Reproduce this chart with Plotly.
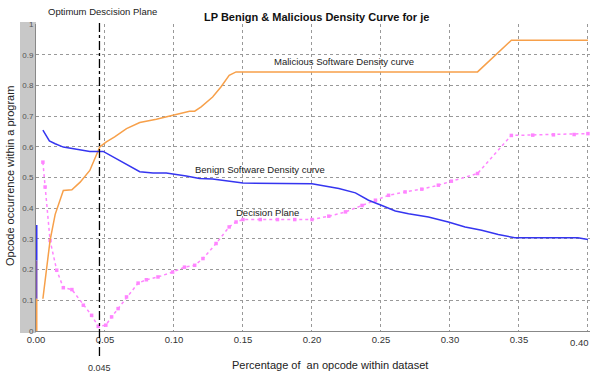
import plotly.graph_objects as go

# ---------------- data ----------------
mal_x = [0.005, 0.0102, 0.0139, 0.0198, 0.026, 0.032, 0.039, 0.0463, 0.051, 0.057,
         0.0656, 0.0752, 0.0872, 0.0992, 0.1113, 0.115, 0.1197, 0.128, 0.134, 0.140,
         0.145, 0.20, 0.25, 0.30, 0.320, 0.3445, 0.40]
mal_y = [0.105, 0.295, 0.38, 0.458, 0.46, 0.485, 0.523, 0.60, 0.616, 0.632,
         0.659, 0.679, 0.69, 0.703, 0.716, 0.716, 0.73, 0.762, 0.795, 0.833,
         0.844, 0.844, 0.844, 0.844, 0.844, 0.947, 0.947]

ben_x = [0.005, 0.0097, 0.0139, 0.0198, 0.0295, 0.039, 0.0487, 0.0559, 0.0656, 0.0752,
         0.0848, 0.0944, 0.1089, 0.1185, 0.128, 0.140, 0.150, 0.20, 0.2195, 0.2315,
         0.241, 0.2507, 0.2604, 0.270, 0.2844, 0.2988, 0.311, 0.323, 0.335, 0.347,
         0.3927, 0.40]
ben_y = [0.654, 0.619, 0.61, 0.599, 0.592, 0.585, 0.585, 0.567, 0.543, 0.519,
         0.515, 0.515, 0.505, 0.497, 0.495, 0.488, 0.482, 0.48, 0.464, 0.45,
         0.426, 0.409, 0.391, 0.382, 0.371, 0.355, 0.339, 0.328, 0.314, 0.304,
         0.304, 0.298]

dec_x = [0.005, 0.0066, 0.0102, 0.015, 0.0198, 0.026, 0.0343, 0.0403, 0.0451, 0.0506,
         0.0548, 0.0595, 0.0656, 0.074, 0.080, 0.0884, 0.099, 0.1076, 0.115, 0.121,
         0.1305, 0.140, 0.145, 0.150, 0.1625, 0.175, 0.1875, 0.20, 0.2122, 0.2243,
         0.2363, 0.246, 0.2555, 0.2675, 0.2796, 0.2916, 0.301, 0.320, 0.3445, 0.36,
         0.375, 0.39, 0.40]
dec_y = [0.55, 0.469, 0.295, 0.198, 0.141, 0.135, 0.084, 0.051, 0.015, 0.019,
         0.046, 0.073, 0.111, 0.156, 0.167, 0.176, 0.192, 0.208, 0.214, 0.236,
         0.285, 0.339, 0.355, 0.363, 0.363, 0.363, 0.363, 0.363, 0.374, 0.388,
         0.409, 0.426, 0.442, 0.453, 0.462, 0.475, 0.488, 0.513, 0.637, 0.638,
         0.639, 0.640, 0.643]

# short coloured stubs on the left edge (x = 0)
edge_blue_y = [0.23, 0.345]
edge_violet_y = [0.105, 0.23]
edge_orange_y = [0.0, 0.105]

optimum_x = 0.046
optimum_label = "0.045"

x_ticks = [0.00, 0.05, 0.10, 0.15, 0.20, 0.25, 0.30, 0.35, 0.40]
x_tick_text = ["0.00", "0.05", "0.10", "0.15", "0.20", "0.25", "0.30", "0.35", ""]
last_x_label = "0.40"
y_ticks = [0, 0.1, 0.2, 0.3, 0.4, 0.5, 0.6, 0.7, 0.8, 0.9, 1.0]
y_tick_text = ["0", "0.1", "0.2", "0.3", "0.4", "0.5", "0.6", "0.7", "0.8", "0.9", "1"]

ORANGE = "#F7A04A"
BLUE = "#3535F0"
PINK = "#FF85FF"
VIOLET = "#7A52B8"
FONT = "Liberation Sans, Arial, sans-serif"

fig = go.Figure()

fig.add_trace(go.Scatter(x=[0, 0], y=edge_orange_y, mode="lines",
                         line=dict(color=ORANGE, width=3), hoverinfo="skip"))
fig.add_trace(go.Scatter(x=[0, 0], y=edge_violet_y, mode="lines",
                         line=dict(color=VIOLET, width=3), hoverinfo="skip"))
fig.add_trace(go.Scatter(x=[0, 0], y=edge_blue_y, mode="lines",
                         line=dict(color=BLUE, width=3), hoverinfo="skip"))

fig.add_trace(go.Scatter(x=dec_x, y=dec_y, mode="lines+markers", name="Decision Plane",
                         line=dict(color=PINK, width=1.5, dash="dot"),
                         marker=dict(symbol="square", size=3.5, color=PINK)))
fig.add_trace(go.Scatter(x=mal_x, y=mal_y, mode="lines", name="Malicious",
                         line=dict(color=ORANGE, width=1.5)))
fig.add_trace(go.Scatter(x=ben_x, y=ben_y, mode="lines", name="Benign",
                         line=dict(color=BLUE, width=1.5)))

W, H = 590, 375
L, R, T, B = 36, 0, 24, 44
pw = W - L - R
ph = H - T - B

def px_x(p):
    return (p - L) / pw

def px_y(p):
    return (H - B - p) / ph

shapes = [
    # grey strip behind the y tick labels
    dict(type="rect", xref="paper", yref="paper",
         x0=px_x(20), x1=0, y0=px_y(333), y1=px_y(22),
         fillcolor="#C8C8C8", line=dict(width=0), layer="below"),
    # optimum decision plane (dash-dot)
    dict(type="line", xref="x", yref="paper",
         x0=optimum_x, x1=optimum_x, y0=px_y(356), y1=px_y(21),
         line=dict(color="black", width=1.3, dash="dashdot")),
]

annotations = [
    dict(text="<b>LP Benign &amp; Malicious Density Curve for je</b>", xref="paper", yref="paper",
         x=px_x(316), y=px_y(17), showarrow=False, xanchor="center", yanchor="middle",
         font=dict(size=11, color="#111", family=FONT)),
    dict(text="Optimum Descision Plane", xref="paper", yref="paper",
         x=px_x(102), y=px_y(12), showarrow=False, xanchor="center", yanchor="middle",
         font=dict(size=9.5, color="#222", family=FONT)),
    dict(text="Malicious Software Density curve", xref="paper", yref="paper",
         x=px_x(344), y=px_y(61), showarrow=False, xanchor="center", yanchor="middle",
         font=dict(size=9.5, color="#222", family=FONT)),
    dict(text="Benign Software Density curve", xref="paper", yref="paper",
         x=px_x(260), y=px_y(169), showarrow=False, xanchor="center", yanchor="middle",
         font=dict(size=9.5, color="#222", family=FONT)),
    dict(text="Decision Plane", xref="paper", yref="paper",
         x=px_x(267), y=px_y(212), showarrow=False, xanchor="center", yanchor="middle",
         font=dict(size=9.5, color="#222", family=FONT)),
    dict(text=optimum_label, xref="x", yref="paper",
         x=optimum_x, y=px_y(368), showarrow=False, xanchor="center", yanchor="middle",
         font=dict(size=9, color="#333", family=FONT)),
    dict(text=last_x_label, xref="x", yref="paper",
         x=x_ticks[-1], y=px_y(342), xshift=-8, showarrow=False,
         xanchor="center", yanchor="middle",
         font=dict(size=9.5, color="#333", family=FONT)),
    dict(text="Percentage of  an opcode within dataset", xref="paper", yref="paper",
         x=px_x(330), y=px_y(365), showarrow=False, xanchor="center", yanchor="middle",
         font=dict(size=11, color="#222", family=FONT)),
    dict(text="Opcode occurrence within a program", xref="paper", yref="paper",
         x=px_x(10), y=px_y(176), showarrow=False, xanchor="center", yanchor="middle",
         textangle=-90, font=dict(size=11, color="#222", family=FONT)),
]

fig.update_layout(
    width=W, height=H,
    margin=dict(l=L, r=R, t=T, b=B, autoexpand=False),
    paper_bgcolor="white", plot_bgcolor="white",
    showlegend=False,
    font=dict(family=FONT),
    shapes=shapes, annotations=annotations,
    xaxis=dict(range=[0, 0.4015], tickvals=x_ticks, ticktext=x_tick_text,
               showgrid=True, gridcolor="#999", griddash="dot", gridwidth=1,
               showline=True, linecolor="#888", linewidth=1, zeroline=False,
               ticks="", tickfont=dict(size=9.5, color="#333", family=FONT),
               automargin=False),
    yaxis=dict(range=[0, 1.0], tickvals=y_ticks, ticktext=y_tick_text,
               showgrid=True, gridcolor="#999", griddash="dot", gridwidth=1,
               showline=True, linecolor="#888", linewidth=1, zeroline=False,
               ticks="", tickfont=dict(size=8, color="#555", family=FONT),
               automargin=False),
)

fig.write_html(
    "out.html",
    config={"displayModeBar": False},
    post_script="document.body.style.margin='0';document.body.style.overflow='hidden';",
)
